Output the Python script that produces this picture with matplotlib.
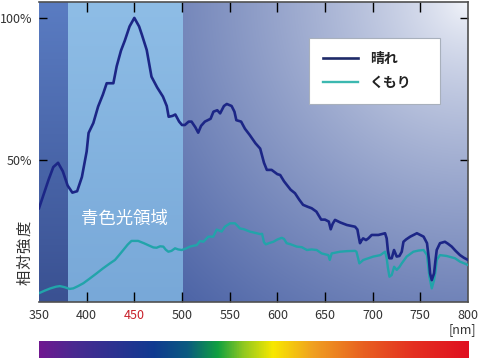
import numpy as np
import matplotlib
matplotlib.use("Agg")
import matplotlib.pyplot as plt
from matplotlib.colors import LinearSegmentedColormap, to_rgb

plt.rcParams['font.family'] = ['Noto Sans CJK JP', 'DejaVu Sans']

# ---------------- data ----------------
sunny_nm = [350, 355, 360, 365, 370, 375, 380, 385, 390, 395, 400, 402, 407, 412, 417, 421, 428, 431.5,
            436, 440, 445, 450, 455, 458, 463, 468, 474, 480, 484, 486, 490, 493, 497, 500, 503, 507,
            510, 514, 517, 520, 524, 530, 533, 537, 540, 544, 547, 552, 555, 557, 562, 566, 571, 577,
            582, 586, 589, 594, 600, 603, 607, 610, 614, 618.5, 623, 627, 632, 636, 641, 646, 650,
            654, 656, 658, 660.5, 666, 673, 681.5, 684, 685, 686.7, 688, 690, 693, 695.5, 699, 706,
            713, 714.7, 716, 717.5, 720, 722.4, 725.2, 728, 730.5, 732.3, 735, 739.4, 746.4, 753.4,
            757, 759, 760.2, 762, 764.4, 766, 767.2, 770.6, 775.8, 779, 782.9, 787, 791.6, 796, 800]
sunny_val = [33, 38, 43, 47.5, 49, 46, 41, 38.5, 39, 44, 53, 59.5, 63, 68.8, 73, 77, 77, 83,
             88.5, 92, 97, 100, 97, 94, 88.7, 79.3, 75.5, 72.3, 69, 65.2, 65.5, 66, 63.5, 62.3, 62.3, 63.5,
             63.5, 61.5, 59.6, 62, 63.5, 64.5, 67, 67.5, 66.4, 69, 69.7, 69, 67, 64, 63.5, 61, 58.8, 55.9,
             54, 49, 46.5, 46.5, 45, 44.7, 42.5, 41.2, 39.5, 38.3, 36, 34.2, 33.5, 33, 31.8, 29, 29,
             28.3, 25.6, 27.5, 28.9, 28, 27.1, 26.5, 25.5, 23.6, 20.7, 21.5, 22.4, 21.8, 22.4, 23.6, 23.6,
             24.2, 22.4, 18, 15.4, 15.4, 18.3, 16, 16.2, 17.7, 21.2, 22, 23, 24.2, 23,
             20.7, 15, 10.1, 7.7, 10.1, 15, 18.3, 20.7, 21.2, 20.5, 19.5, 18, 16.5, 15.5, 14.8]

cloudy_nm = [350, 356, 362, 368, 372, 377, 382, 386, 391, 396.5, 403, 410.5, 417, 424, 429.7, 434, 438.4,
             443, 447, 454, 460, 464.6, 470, 473.4, 477, 480.4, 483, 485.7, 489, 492.7, 496, 499.7, 504,
             508.4, 512, 515.4, 519, 522.4, 527.6, 532.8, 536.4, 541.6, 545, 550.4, 555.6, 560.8, 565,
             571, 578.4, 582, 584, 586, 588, 592, 595.8, 600, 604.6, 607, 609.8, 614, 620.3, 625.6, 631,
             636, 641.3, 646.5, 653.5, 655, 657, 665.7, 673, 681.5, 683, 685, 686, 690.2, 695.5, 700.8,
             708, 713, 714.7, 716, 717.6, 720, 722.5, 725.2, 728, 730.5, 735.7, 742.7, 748, 753.4, 757,
             759.5, 762, 764.4, 766, 767.2, 770.6, 777.6, 786.3, 791.6, 796, 800]
cloudy_val = [3.1, 4, 4.8, 5.4, 5.6, 5.2, 4.6, 4.8, 5.6, 6.6, 8.2, 10.1, 11.8, 13.5, 14.8, 16.5, 18.3,
              20.2, 21.5, 21.5, 20.7, 20, 19.2, 19.1, 19.6, 19.5, 18.4, 17.7, 18, 18.9, 18.5, 18.3, 18.8,
              19.5, 19.8, 20, 21.5, 21.2, 23, 23, 25.5, 24.8, 26.5, 27.7, 27.7, 25.9, 25.6,
              24.8, 24.2, 23.9, 24, 21, 20.3, 20.8, 21.2, 22, 22.6, 22.2, 20.7, 20.3, 19.5, 19.3, 18.3,
              18.5, 18.3, 17.1, 16.5, 14.8, 17.1, 17.7, 17.9, 18, 17.7, 15, 13.6, 14.8, 15.4, 16,
              16.5, 17.7, 15.4, 12, 8.9, 9.5, 12.4, 11.3, 12.3, 13.6, 16, 17.7, 18.1, 18.3, 16.5,
              8.9, 4.8, 7.7, 11, 14.8, 16.5, 16.2, 15.4, 14.2, 13.6, 13]

series_labels = ["晴れ", "くもり"]
x_ticks = [350, 400, 450, 500, 550, 600, 650, 700, 750, 800]
y_ticks = [50, 100]
y_ticklabels = ["50%", "100%"]
blue_region = [380, 500]
uv_region = [350, 380]
region_label = "青色光領域"
y_label = "相対強度"
unit_label = "[nm]"

spectrum_nm = [350, 386, 470, 505, 537, 564, 595, 637, 690, 742, 800]
spectrum_colors = ["#701890", "#4a2a90", "#103a90", "#0a5a80", "#10a040", "#90c820",
                   "#f8e800", "#f0a020", "#e86020", "#e43020", "#e01020"]

# ---------------- figure ----------------
W, H = 478, 361
fig = plt.figure(figsize=(W / 100, H / 100), dpi=100)
fig.patch.set_facecolor("white")

x0, x1 = 350, 800
y0, y1 = 0, 105.6
ax = fig.add_axes([39 / W, 1 - 302 / H, (468 - 39) / W, 300 / H])
ax.set_xlim(x0, x1)
ax.set_ylim(y0, y1)

# background gradient (dark bottom-left -> near white top-right)
nx, ny = 300, 220
u = np.linspace(0, 1, nx)[None, :]
v = np.linspace(1, 0, ny)[:, None]
d = np.sqrt(((1 - u) * 429) ** 2 + ((1 - v) * 300) ** 2) / 430.0
t = np.clip(d, 0, 1) ** 0.75
dark = np.array(to_rgb("#4860a4"))
light = np.array(to_rgb("#f4f6fb"))
img = light[None, None, :] * (1 - t[..., None]) + dark[None, None, :] * t[..., None]
ax.imshow(img, extent=[x0, x1, y0, y1], aspect="auto", zorder=0, interpolation="bilinear")

# dark UV band
vv = np.linspace(1, 0, 100)[:, None, None]
ctop, cbot = np.array(to_rgb("#5a7cc2")), np.array(to_rgb("#3a5192"))
band = ctop * vv + cbot * (1 - vv)
ax.imshow(np.repeat(band, 2, axis=1), extent=[uv_region[0], uv_region[1], y0, y1],
          aspect="auto", zorder=1)
# light blue band
ctop, cbot = np.array(to_rgb("#8ebde6")), np.array(to_rgb("#78a8d8"))
band = ctop * vv + cbot * (1 - vv)
ax.imshow(np.repeat(band, 2, axis=1), extent=[blue_region[0], blue_region[1], y0, y1],
          aspect="auto", zorder=1)
ax.set_xlim(x0, x1)
ax.set_ylim(y0, y1)

l1, = ax.plot(sunny_nm, sunny_val, color="#1c2686", lw=1.9, zorder=4, label=series_labels[0],
              solid_joinstyle="round")
l2, = ax.plot(cloudy_nm, cloudy_val, color="#22a4aa", lw=1.7, zorder=3, label=series_labels[1],
              solid_joinstyle="round")

bx = (309 - 39) / 429
bw = (440 - 309) / 429
by_top = 1 - (38 - 2) / 300
bh = 65 / 300
leg = ax.legend(handles=[l1, l2], loc="upper left",
                bbox_to_anchor=(bx, by_top - bh, bw, bh), mode="expand",
                frameon=True, fancybox=False, fontsize=10, handlelength=2.5, handletextpad=0.9,
                labelspacing=0.7, borderpad=1.0, borderaxespad=0)
leg.get_frame().set_edgecolor("#a8b0bc")
leg.get_frame().set_linewidth(0.8)
leg.get_frame().set_facecolor("white")
leg.get_frame().set_alpha(1)
for txt in leg.get_texts():
    txt.set_color("#222222")
    txt.set_fontweight("bold")
leg.legend_handles[0].set_color("#1e2a68")
leg.legend_handles[1].set_color("#3cb8b0")

ax.text(np.mean(blue_region) - 0.5, 29.2, region_label, color="white", fontsize=12.5,
        ha="center", va="center", zorder=5)

# ticks
ax.set_xticks(x_ticks)
ax.set_xticklabels([str(v) for v in x_ticks])
ax.set_yticks(y_ticks)
ax.set_yticklabels(y_ticklabels)
ax.tick_params(axis="both", direction="in", length=7, width=1.0, labelsize=9,
               labelcolor="#333333", top=True, right=True)
ax.tick_params(axis="x", pad=5)
ax.tick_params(axis="y", pad=5, length=6)
for tk, val in zip(ax.xaxis.get_major_ticks(), x_ticks):
    if val in (350, 800):
        tk.tick1line.set_visible(False)
        tk.tick2line.set_visible(False)
    if val == 450:
        tk.tick1line.set_color("#c8202a")
        tk.tick2line.set_color("#c8202a")
        tk.label1.set_color("#c8202a")
    else:
        tk.tick1line.set_color("white")
        tk.tick2line.set_color("white" if val < 600 else "#333333")
for tk in ax.yaxis.get_major_ticks():
    tk.tick1line.set_color("white")
    tk.tick2line.set_color("#444444")

for s in ["top", "right", "bottom"]:
    ax.spines[s].set_color("#505050")
    ax.spines[s].set_linewidth(1.2)
ax.spines["left"].set_visible(False)
ax.spines["top"].set_zorder(6)

# vertical axis title, characters spaced like the reference
for i, ch in enumerate(y_label):
    fig.text(25 / W, 1 - (277.5 - i * 16.3) / H, ch, rotation=90, fontsize=11, color="#333333",
             ha="center", va="center")
fig.text(462 / W, 1 - 330 / H, unit_label, fontsize=9, color="#333333", ha="center", va="center")

# spectrum bar
cax = fig.add_axes([39 / W, 1 - 358 / H, (469 - 39) / W, 17 / H])
pos = [(w - spectrum_nm[0]) / (spectrum_nm[-1] - spectrum_nm[0]) for w in spectrum_nm]
cmap = LinearSegmentedColormap.from_list("spec", list(zip(pos, spectrum_colors)))
cax.imshow(np.linspace(0, 1, 512)[None, :], cmap=cmap, aspect="auto",
           extent=[spectrum_nm[0], spectrum_nm[-1], 0, 1])
cax.set_axis_off()

fig.savefig("out.png", dpi=100, facecolor="white")
